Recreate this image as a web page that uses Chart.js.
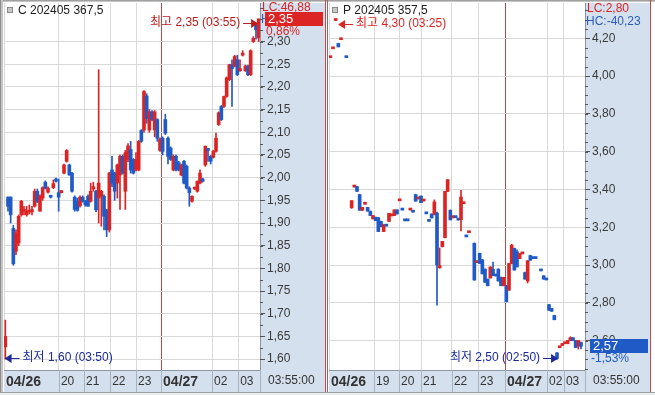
<!DOCTYPE html>
<html>
<head>
<meta charset="utf-8">
<script src="https://cdn.jsdelivr.net/npm/chart.js@4.4.1/dist/chart.umd.min.js"></script>
<style>
  body { margin: 0; background: #fff; }
  #wrap { position: relative; width: 655px; height: 395px; overflow: hidden; background: #fff; }
  canvas { position: absolute; top: 0; }
  #cChart { left: 0; }
  #pChart { left: 327px; }
</style>
</head>
<body>
<div id="wrap">
  <canvas id="cChart" width="327" height="395"></canvas>
  <canvas id="pChart" width="328" height="395"></canvas>
</div>
<script>
const FONT = '"Liberation Sans", "Noto Sans CJK KR", Arial, sans-serif';
const RED = '#dc2424';
const BLUE = '#1f5ac6';
const NAVY = '#1c2a9c';
const GRID = '#d9d9d9';
const PANEL = '#d5e0ee';
const AXIS = '#8c96a2';
const DAYLINE = '#c24646';

// ---- C 202405 367,5 (slot = minute bar position) ----
const cSlot = [0,1,2,3,4,5,6,7,8,9,10,11,12,13,14,15,16,17,18,19,20,21,22,23,24,25,26,27,28,29,
  30,31,32,33,34,35,36,37,38,39,40,41,42,43,44,45,46,47,48,49,50,51,52,53,54,55,56,57,58,59,
  60,61,62,63,64,65,66,67,68,69,70,71,72,73,74,75,76,77,78,79,80,81,82,83,84,85,86,87,88,89,
  90,91,92,93,94,95];
const cOpen = [1.627,1.957,1.957,1.888,1.838,1.856,1.918,1.926,1.918,1.924,
  1.925,1.937,1.970,1.926,1.955,1.990,1.968,1.959,1.978,1.997,
  1.967,1.967,2.010,2.036,2.028,2.010,1.957,1.948,1.938,1.957,
  1.948,1.959,1.948,1.975,1.970,1.955,1.959,1.959,1.929,1.885,
  2.017,2.010,1.988,2.006,2.047,1.970,2.040,2.062,2.040,2.017,
  2.017,2.104,2.105,2.180,2.105,2.145,2.105,2.128,2.060,2.087,
  2.128,2.087,2.065,2.017,2.047,2.033,2.006,2.036,2.025,1.977,
  1.948,1.975,1.970,1.988,1.997,2.028,2.062,2.047,2.045,2.058,
  2.117,2.157,2.157,2.179,2.216,2.249,2.246,2.260,2.236,2.270,
  2.236,2.246,2.227,2.300,2.337,2.308];
const cHigh = [1.686,1.958,1.958,1.895,1.885,1.918,1.950,1.937,1.937,1.940,
  1.937,1.975,1.975,1.962,1.980,1.993,1.980,1.960,1.995,1.999,
  1.997,1.972,2.030,2.062,2.030,2.012,1.960,1.955,1.960,1.960,
  1.950,1.962,1.988,1.990,1.972,2.238,1.972,1.962,1.930,2.012,
  2.047,2.012,2.030,2.050,2.050,2.060,2.075,2.080,2.042,2.055,
  2.082,2.106,2.192,2.185,2.150,2.148,2.148,2.130,2.088,2.090,
  2.140,2.090,2.068,2.050,2.050,2.036,2.030,2.038,2.028,1.980,
  1.960,1.978,1.993,2.017,1.999,2.070,2.064,2.049,2.060,2.098,
  2.145,2.159,2.180,2.222,2.250,2.260,2.270,2.270,2.260,2.280,
  2.248,2.248,2.282,2.311,2.340,2.350];
const cLow = [1.600,1.926,1.900,1.807,1.830,1.850,1.915,1.918,1.915,1.920,
  1.918,1.935,1.945,1.926,1.950,1.975,1.966,1.955,1.976,1.990,
  1.926,1.966,2.008,2.034,2.005,1.968,1.926,1.926,1.935,1.946,
  1.937,1.937,1.946,1.970,1.925,1.900,1.893,1.885,1.870,1.880,
  1.980,1.950,1.955,1.930,2.008,1.930,2.035,2.010,2.008,2.015,
  2.015,2.078,2.100,2.120,2.100,2.125,2.090,2.080,2.058,2.050,
  2.095,2.030,2.038,2.015,2.015,2.015,2.004,1.986,1.975,1.937,
  1.946,1.974,1.968,1.986,1.990,2.025,2.036,2.030,2.043,2.056,
  2.115,2.126,2.155,2.177,2.214,2.157,2.244,2.225,2.234,2.268,
  2.234,2.225,2.225,2.298,2.305,2.300];
const cClose = [1.650,1.937,1.918,1.810,1.878,1.915,1.948,1.930,1.926,1.927,
  1.929,1.970,1.948,1.959,1.978,1.976,1.977,1.957,1.987,1.992,
  1.957,1.970,2.028,2.060,2.006,1.970,1.930,1.928,1.957,1.948,
  1.940,1.937,1.970,1.980,1.929,1.988,1.970,1.915,1.885,2.010,
  1.988,1.970,2.028,2.047,2.010,2.055,2.070,2.017,2.010,2.040,
  2.080,2.080,2.190,2.130,2.145,2.128,2.145,2.087,2.085,2.058,
  2.098,2.047,2.040,2.047,2.017,2.017,2.028,1.988,1.977,1.967,
  1.959,1.977,1.992,2.010,1.992,2.069,2.060,2.036,2.058,2.087,
  2.143,2.128,2.179,2.220,2.249,2.240,2.267,2.227,2.238,2.272,
  2.246,2.227,2.280,2.307,2.326,2.350];
const cYTicks = [1.60,1.65,1.70,1.75,1.80,1.85,1.90,1.95,2.00,2.05,2.10,2.15,2.20,2.25,2.30];
const cHourTicks = [-0.5, 20.1, 29.5, 39.3, 49.0, 58.4, 77.5, 87.3];
const cHourLabels = ['04/26','20','21','22','23','04/27','02','03'];

// ---- P 202405 357,5 ----
const pSlot = [0,1,2,3,4,6,8,9,10,11,12,13,14,15,16,17,18,19,20,21,22,23,24,25,26,27,28,29,30,31,
  32,33,34,35,36,37,38,39,40,41,42,43,44,45,46,47,48,49,50,51,52,54,55,56,57,58,59,60,61,62,
  63,64,65,66,67,68,69,70,71,72,73,74,75,76,77,79,80,81,82,83,84,85,86,87,88,89,90,91,92,93,94];
const pOpen = [4.098,4.145,4.295,4.173,4.193,4.100,3.303,3.413,3.415,3.373,3.290,3.322,3.305,3.285,3.244,
  3.253,3.250,3.231,3.177,3.208,3.231,3.260,3.262,3.292,3.340,3.292,3.235,3.235,3.291,3.281,
  3.373,3.350,3.365,3.339,3.272,3.232,3.270,3.267,3.275,2.985,3.097,3.145,3.390,3.290,3.250,
  3.252,3.239,3.240,3.325,3.150,3.171,3.115,3.013,3.062,3.027,2.978,2.925,2.931,2.978,2.943,
  2.978,2.935,2.890,2.890,2.867,3.008,3.088,3.070,3.034,3.059,2.960,2.915,3.050,3.035,3.035,
  2.970,2.943,2.922,2.790,2.770,2.733,2.535,2.562,2.574,2.583,2.583,2.600,2.615,2.600,2.571,2.590];
const pHigh = [4.100,4.147,4.300,4.175,4.195,4.100,3.341,3.415,3.416,3.375,3.305,3.324,3.306,3.286,3.262,
  3.254,3.252,3.232,3.214,3.209,3.274,3.270,3.292,3.292,3.341,3.292,3.235,3.235,3.292,3.281,
  3.375,3.351,3.366,3.340,3.272,3.232,3.271,3.345,3.280,3.090,3.125,3.390,3.452,3.292,3.260,
  3.252,3.239,3.395,3.330,3.150,3.172,3.117,3.014,3.063,3.030,2.980,2.926,2.990,3.015,2.943,
  2.980,2.936,2.935,2.892,3.008,3.110,3.090,3.080,3.060,3.060,2.962,3.023,3.052,3.035,3.035,
  2.970,2.944,2.922,2.792,2.771,2.734,2.536,2.563,2.575,2.591,2.600,2.620,2.616,2.601,2.600,2.592];
const pLow = [4.098,4.145,4.295,4.155,4.193,4.098,3.300,3.413,3.390,3.290,3.288,3.322,3.285,3.262,3.244,
  3.235,3.177,3.203,3.177,3.206,3.231,3.260,3.262,3.270,3.340,3.291,3.234,3.234,3.291,3.280,
  3.338,3.350,3.330,3.339,3.271,3.231,3.249,3.265,2.787,2.983,3.095,3.143,3.388,3.239,3.250,
  3.251,3.238,3.180,3.325,3.149,3.171,2.920,3.013,3.008,2.953,2.908,2.890,2.931,2.943,2.942,
  2.915,2.890,2.890,2.805,2.865,3.006,2.973,2.990,3.033,3.059,2.925,2.905,3.025,3.034,3.034,
  2.969,2.925,2.921,2.760,2.755,2.710,2.500,2.562,2.574,2.583,2.583,2.600,2.600,2.563,2.555,2.555];
const pClose = [4.100,4.147,4.297,4.155,4.195,4.098,3.341,3.415,3.390,3.290,3.305,3.324,3.285,3.262,3.262,
  3.235,3.177,3.203,3.214,3.206,3.274,3.270,3.292,3.270,3.341,3.291,3.234,3.234,3.292,3.280,
  3.338,3.351,3.330,3.340,3.271,3.231,3.249,3.334,3.000,2.997,3.125,3.390,3.452,3.239,3.260,
  3.251,3.238,3.360,3.330,3.149,3.172,2.920,3.014,3.008,2.953,2.908,2.890,2.990,2.943,2.942,
  2.915,2.890,2.935,2.805,3.008,3.105,2.973,2.990,3.060,3.060,2.925,3.023,3.025,3.034,3.034,
  2.969,2.925,2.921,2.760,2.755,2.710,2.505,2.563,2.575,2.591,2.600,2.615,2.600,2.563,2.600,2.570];
const pYTicks = [2.60,2.80,3.00,3.20,3.40,3.60,3.80,4.00,4.20];
const pHourTicks = [-0.5, 16.4, 25.75, 34.0, 45.6, 55.4, 65.5, 81.25, 87.6];
const pHourLabels = ['04/26','19','20','21','22','23','04/27','02','03'];

const fmt = v => v.toFixed(2).replace('.', ',');

function text(ctx, s, x, y, color, size, align, weight) {
  ctx.font = (weight || 'normal') + ' ' + size + 'px ' + FONT;
  ctx.fillStyle = color;
  ctx.textAlign = align || 'left';
  ctx.textBaseline = 'middle';
  ctx.fillText(s, x, y);
}

// dir 1: text on the left, arrow points right; dir -1: arrow points left, text on the right
function marker(ctx, label, tipX, y, dir, color) {
  y = Math.round(y);
  ctx.strokeStyle = color;
  ctx.fillStyle = color;
  ctx.lineWidth = 1;
  ctx.beginPath();
  ctx.moveTo(tipX - dir * 15, y + 0.5);
  ctx.lineTo(tipX - dir * 5, y + 0.5);
  ctx.stroke();
  ctx.beginPath();
  ctx.moveTo(tipX, y + 0.5);
  ctx.lineTo(tipX - dir * 7, y - 4);
  ctx.lineTo(tipX - dir * 7, y + 5);
  ctx.closePath();
  ctx.fill();
  text(ctx, label, tipX - dir * 18, y, color, 12, dir > 0 ? 'right' : 'left');
}

function panelPlugin(p) {
  return {
    id: 'panel',
    beforeDraw(chart) {
      const { ctx, chartArea: a, width, height } = chart;
      ctx.save();
      ctx.fillStyle = '#fff';
      ctx.fillRect(0, 0, width, height);
      ctx.fillStyle = PANEL;
      ctx.fillRect(a.right, a.top, 65, a.bottom - a.top + 22);
      ctx.fillRect(a.left, a.bottom, a.right - a.left, 22);
      ctx.restore();
    },
    afterDraw(chart) {
      const { ctx, chartArea: a, width, height } = chart;
      const xs = chart.scales.x, ys = chart.scales.y;
      ctx.save();
      // minor ticks on the value axis
      ctx.strokeStyle = '#555';
      ctx.lineWidth = 1;
      const n = Math.round((ys.max - p.minorFrom) / p.minorStep);
      for (let i = 0; i <= n; i++) {
        const v = p.minorFrom + i * p.minorStep;
        const y = Math.round(ys.getPixelForValue(v)) + 0.5;
        if (y < a.top || y > a.bottom) continue;
        ctx.beginPath(); ctx.moveTo(a.right, y); ctx.lineTo(a.right + 3, y); ctx.stroke();
      }
      // time row cell separators
      ctx.strokeStyle = '#a9b3bf';
      p.hourTicks.slice(1).concat([xs.max]).forEach(v => {
        const x = Math.round(xs.getPixelForValue(v)) + 0.5;
        ctx.beginPath(); ctx.moveTo(x, a.bottom); ctx.lineTo(x, a.bottom + 22); ctx.stroke();
      });
      ctx.strokeStyle = '#9aa3ad';
      ctx.beginPath(); ctx.moveTo(0, a.bottom + 22.5); ctx.lineTo(width, a.bottom + 22.5); ctx.stroke();
      ctx.fillStyle = '#ececec';
      ctx.fillRect(0, a.bottom + 23, width, height - a.bottom - 23);
      text(ctx, '03:55:00', a.right + 8, a.bottom + 11, '#333', 12);

      // title
      ctx.fillStyle = '#8a8a8a';
      ctx.fillRect(a.left + 3, 7, 6, 6);
      ctx.fillStyle = '#c8c8c8';
      ctx.fillRect(a.left + 4, 8, 4, 4);
      text(ctx, p.title, a.left + 14, 11, '#222', 12);

      // high / low markers
      marker(ctx, p.hiText, xs.getPixelForValue(p.hiTip), ys.getPixelForValue(p.hiValue) + 4, p.hiDir, p.hiColor);
      marker(ctx, p.loText, xs.getPixelForValue(p.loTip), ys.getPixelForValue(p.loValue) - 1, p.loDir, NAVY);

      // axis panel texts and last price box
      text(ctx, p.lc, a.right + 2, p.lcY, RED, 12);
      text(ctx, p.hc, a.right + 1, p.hcY, '#2a5cb8', 12);
      const yLast = Math.round(ys.getPixelForValue(p.last));
      ctx.fillStyle = p.lastColor;
      ctx.fillRect(a.right + 5, yLast - 7, 58, 14);
      text(ctx, fmt(p.last), a.right + 8, yLast, '#fff', 13);
      text(ctx, p.pct, a.right + 6, yLast + 13, p.lastColor, 12);

      // frames
      ctx.fillStyle = '#a0a0a0';
      ctx.fillRect(0, 0, width, 1);
      ctx.fillStyle = '#c6c6c6';
      ctx.fillRect(0, 1, width, 1);
      ctx.fillStyle = p.leftFrame;
      ctx.fillRect(0, 0, 1, a.bottom + 22);
      if (p.leftFrame2) { ctx.fillStyle = p.leftFrame2; ctx.fillRect(1, 0, 2, a.bottom + 22); }
      ctx.fillStyle = '#c84848';
      ctx.fillRect(a.right + 65, 0, 1, a.bottom + 22);
      ctx.restore();
    }
  };
}

function makeChart(id, p) {
  const colors = p.slot.map((s, i) => (p.close[i] >= p.open[i] ? RED : BLUE));
  const wicks = p.slot.map((s, i) => ({ x: s, y: [p.low[i], p.high[i]] }));
  const bodies = p.slot.map((s, i) => ({ x: s, y: [Math.min(p.open[i], p.close[i]), Math.max(p.open[i], p.close[i])] }));
  return new Chart(document.getElementById(id), {
    type: 'bar',
    data: {
      datasets: [
        { data: wicks, backgroundColor: colors, barThickness: 1, grouped: false, order: 2 },
        { data: bodies, backgroundColor: colors, barThickness: 3, minBarLength: 2, grouped: false, order: 1 }
      ]
    },
    options: {
      responsive: false,
      animation: false,
      devicePixelRatio: 1,
      layout: { padding: p.padding },
      plugins: { legend: { display: false }, tooltip: { enabled: false } },
      scales: {
        x: {
          type: 'linear', min: -0.5, max: 95.5, offset: false,
          afterBuildTicks: s => { s.ticks = p.hourTicks.map(v => ({ value: v })); },
          afterFit: s => { s.height = 22; s.paddingLeft = 0; s.paddingRight = 0; },
          grid: {
            offset: false, drawTicks: false,
            color: c => (c.tick && c.tick.value === p.dayBreak ? DAYLINE : GRID)
          },
          border: { color: AXIS },
          ticks: {
            autoSkip: false, maxRotation: 0, align: 'start', labelOffset: 2, padding: 4, color: '#333',
            callback: (v, i) => p.hourLabels[i],
            font: c => (c.tick && String(c.tick.label).indexOf('/') >= 0
              ? { family: FONT, size: 14, weight: 'bold' }
              : { family: FONT, size: 12 })
          }
        },
        y: {
          position: 'right', min: p.yMin, max: p.yMax, beginAtZero: false,
          afterBuildTicks: s => { s.ticks = p.yTicks.map(v => ({ value: v })); },
          afterFit: s => { s.width = 65; s.paddingTop = 0; s.paddingBottom = 0; },
          grid: { color: GRID, tickLength: 5, tickColor: '#555' },
          border: { color: AXIS },
          ticks: { padding: 2, color: '#3a3a3a', font: { family: FONT, size: 12 }, callback: v => fmt(v) }
        }
      }
    },
    plugins: [panelPlugin(p)]
  });
}

makeChart('cChart', {
  slot: cSlot, open: cOpen, high: cHigh, low: cLow, close: cClose,
  yMin: 1.576, yMax: 2.385, yTicks: cYTicks, minorFrom: 1.575, minorStep: 0.025,
  hourTicks: cHourTicks, hourLabels: cHourLabels, dayBreak: 58.4,
  padding: { left: 4, top: 3, right: 2, bottom: 3 },
  title: 'C 202405 367,5', lc: 'LC:46,88', lcY: 8, hc: 'HC:', hcY: 20,
  last: 2.35, lastColor: RED, pct: '0,86%',
  hiText: '최고 2,35 (03:55)', hiValue: 2.35, hiTip: 94.8, hiDir: 1, hiColor: '#b81c1c',
  loText: '최저 1,60 (03:50)', loValue: 1.60, loTip: -0.3, loDir: -1,
  leftFrame: '#8e8e8e', leftFrame2: '#c4c4c4'
});

makeChart('pChart', {
  slot: pSlot, open: pOpen, high: pHigh, low: pLow, close: pClose,
  yMin: 2.444, yMax: 4.3875, yTicks: pYTicks, minorFrom: 2.45, minorStep: 0.05,
  hourTicks: pHourTicks, hourLabels: pHourLabels, dayBreak: 65.5,
  padding: { left: 2, top: 3, right: 5, bottom: 3 },
  title: 'P 202405 357,5', lc: 'LC:2,80', lcY: 9, hc: 'HC:-40,23', hcY: 22,
  last: 2.57, lastColor: BLUE, pct: '-1,53%',
  hiText: '최고 4,30 (03:25)', hiValue: 4.30, hiTip: 2.9, hiDir: -1, hiColor: RED,
  loText: '최저 2,50 (02:50)', loValue: 2.50, loTip: 85.4, loDir: 1,
  leftFrame: '#a06060', leftFrame2: null
});
</script>
</body>
</html>
